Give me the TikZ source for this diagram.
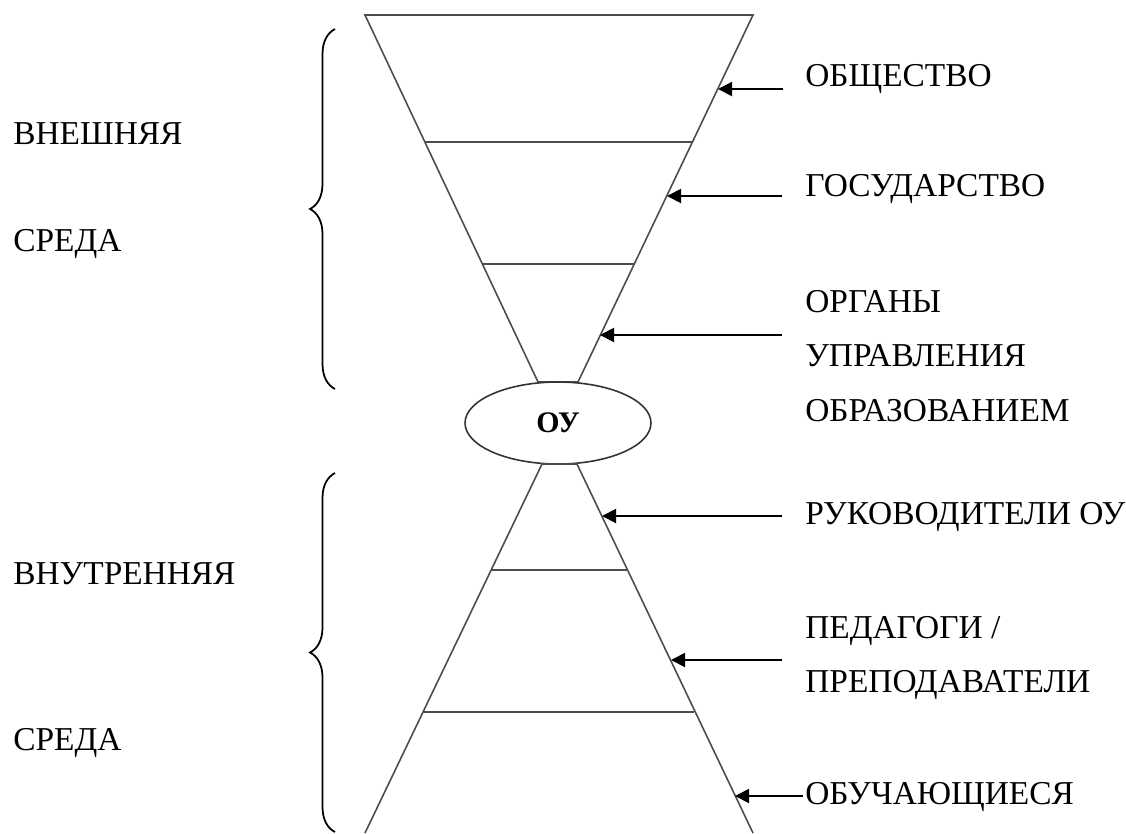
\documentclass[tikz,border=0pt]{standalone}
\usepackage{fontspec}
\setmainfont{Liberation Serif}
\usetikzlibrary{positioning,shapes.geometric,arrows.meta,decorations.pathreplacing}

\tikzset{
  side/.style={draw=black!70, line width=0.9pt},
  arr/.style={-{Triangle[length=8pt,width=8pt]}, line width=1.1pt},
  lbl/.style={anchor=west, inner sep=0pt, align=left, font=\fontsize{19}{31}\selectfont},
  curly/.style={decorate, decoration={brace, amplitude=0.5cm}, line width=1pt}
}

\begin{document}
\begin{tikzpicture}[x=0.02cm, y=-0.02cm]
	\useasboundingbox (0,0) rectangle (1126,833);
	
	% upper funnel
	\draw[side] (365,15) -- (753,15) -- (578,382) -- (538,382) -- cycle;
	\draw[side] (425,142) -- (692,142);
	\draw[side] (482,264) -- (634,264);
	
	\node[ellipse, draw=black!80, line width=0.9pt, minimum width=3.72cm, minimum height=1.64cm,
	  inner sep=0pt, font=\fontsize{17}{19}\selectfont\bfseries] (ou) at (558,423) {ОУ};
	
	% lower funnel
	\draw[side] (365,833) -- (542,464) -- (577,464) -- (753,833);
	\draw[side] (491,570) -- (627,570);
	\draw[side] (423,712) -- (694,712);
	
	\draw[curly] (335,389) -- (335,29);
	\draw[curly] (335,832) -- (335,473);
	
	\node[lbl] (vnesh) at (13,134) {ВНЕШНЯЯ};
	\node[lbl] (sreda1) at (13,244) {СРЕДА};
	\node[lbl] (vnutr) at (13,574) {ВНУТРЕННЯЯ};
	\node[lbl] (sreda2) at (13,743) {СРЕДА};
	
	\node[lbl] (obsch) at (805,79) {ОБЩЕСТВО};
	\node[lbl] (gos) at (805,189) {ГОСУДАРСТВО};
	\node[lbl] (organy) at (805,356) {ОРГАНЫ\\УПРАВЛЕНИЯ\\ОБРАЗОВАНИЕМ};
	\node[lbl] (ruk) at (805,517) {РУКОВОДИТЕЛИ ОУ};
	\node[lbl] (ped) at (805,658) {ПЕДАГОГИ /\\ПРЕПОДАВАТЕЛИ};
	\node[lbl] (obuch) at (805,797) {ОБУЧАЮЩИЕСЯ};
	
	\foreach \y/\x/\s [count=\i] in {89/718/783, 196/667/782, 335/600/782,
	  516/602/782, 660/671/782, 796/735/803}
	{
	  \coordinate (s\i) at (\s,\y);
	  \coordinate (t\i) at (\x,\y);
	  \draw[arr] (s\i) -- (t\i);
	}
	
\end{tikzpicture}
\end{document}
